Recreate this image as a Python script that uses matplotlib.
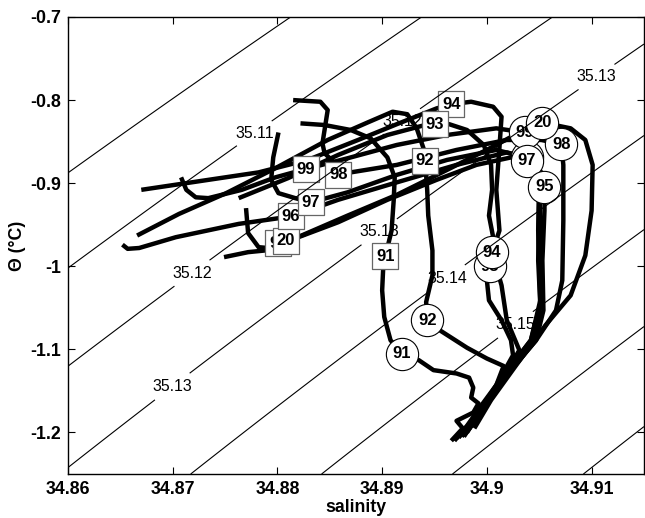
import numpy as np
import matplotlib.pyplot as plt
from matplotlib.ticker import FuncFormatter

plt.rcParams['font.family'] = ['Liberation Sans', 'DejaVu Sans']

# theta-S profiles, one per year (salinity, potential temperature)
s91 = [34.8822, 34.8845, 34.8870, 34.8889, 34.8905, 34.8912, 34.8911, 34.8909, 34.8903, 34.8901,
       34.8900, 34.8902, 34.8908, 34.8919, 34.8935, 34.8949, 34.8971, 34.8983, 34.8987, 34.8985,
       34.8992, 34.8987, 34.8971, 34.8977, 34.8966]
t91 = [-0.828, -0.830, -0.836, -0.846, -0.869, -0.893, -0.921, -0.957, -0.988, -1.002,
       -1.029, -1.061, -1.089, -1.105, -1.113, -1.125, -1.129, -1.134, -1.146, -1.158,
       -1.165, -1.176, -1.186, -1.195, -1.210]

s92 = [34.8666, 34.8706, 34.8751, 34.8798, 34.8848, 34.8886, 34.8910, 34.8924, 34.8933, 34.8940,
       34.8941, 34.8943, 34.8944, 34.8948, 34.8948, 34.8942, 34.8943, 34.8955, 34.8981, 34.9000,
       34.9016, 34.9009, 34.8995, 34.8981, 34.8969]
t92 = [-0.963, -0.937, -0.912, -0.882, -0.848, -0.827, -0.814, -0.817, -0.834, -0.860,
       -0.873, -0.908, -0.939, -0.981, -1.011, -1.043, -1.065, -1.077, -1.098, -1.111,
       -1.120, -1.143, -1.167, -1.192, -1.210]

s93 = [34.8763, 34.8810, 34.8858, 34.8905, 34.8938, 34.8950, 34.8964, 34.8981, 34.8997, 34.9004,
       34.9005, 34.9002, 34.9006, 34.9003, 34.9003, 34.9000, 34.9002, 34.9014, 34.9023, 34.9025,
       34.9009, 34.8990, 34.8971]
t93 = [-0.918, -0.894, -0.866, -0.842, -0.831, -0.829, -0.829, -0.836, -0.854, -0.878,
       -0.908, -0.939, -0.965, -0.988, -1.000, -1.017, -1.041, -1.065, -1.089, -1.107,
       -1.143, -1.180, -1.207]

s94 = [34.8670, 34.8734, 34.8782, 34.8829, 34.8877, 34.8914, 34.8952, 34.8966, 34.8985, 34.9006,
       34.9014, 34.9012, 34.9009, 34.9012, 34.9005, 34.9014, 34.9019, 34.9031, 34.9014, 34.8995,
       34.8978]
t94 = [-0.908, -0.896, -0.887, -0.872, -0.848, -0.829, -0.810, -0.805, -0.802, -0.808,
       -0.820, -0.857, -0.908, -0.957, -0.983, -1.023, -1.065, -1.101, -1.137, -1.173,
       -1.205]

s95 = [34.8770, 34.8772, 34.8782, 34.8791, 34.8801, 34.8820, 34.8858, 34.8905, 34.8952, 34.8990,
       34.9023, 34.9042, 34.9052, 34.9055, 34.9055, 34.9053, 34.9054, 34.9047, 34.9023, 34.9000,
       34.8978]
t95 = [-0.930, -0.960, -0.977, -0.978, -0.972, -0.965, -0.947, -0.920, -0.896, -0.878,
       -0.869, -0.872, -0.887, -0.904, -0.933, -0.993, -1.053, -1.089, -1.125, -1.167,
       -1.204]

s96 = [34.8652, 34.8657, 34.8668, 34.8703, 34.8763, 34.8813, 34.8858, 34.8914, 34.8971, 34.9019,
       34.9038, 34.9050, 34.9051, 34.9052, 34.9045, 34.9019, 34.8995, 34.8976]
t96 = [-0.974, -0.979, -0.978, -0.965, -0.949, -0.940, -0.920, -0.899, -0.878, -0.863,
       -0.869, -0.890, -0.957, -1.041, -1.089, -1.128, -1.173, -1.205]

s97 = [34.8801, 34.8796, 34.8794, 34.8801, 34.8817, 34.8832, 34.8867, 34.8914, 34.8962, 34.9009,
       34.9028, 34.9038, 34.9047, 34.9050, 34.9049, 34.9051, 34.9042, 34.9014, 34.8990, 34.8973]
t97 = [-0.839, -0.869, -0.896, -0.912, -0.918, -0.923, -0.911, -0.890, -0.872, -0.860,
       -0.866, -0.873, -0.890, -0.920, -0.993, -1.047, -1.089, -1.135, -1.180, -1.206]

s98 = [34.8815, 34.8841, 34.8848, 34.8846, 34.8843, 34.8845, 34.8855, 34.8858, 34.8870, 34.8914,
       34.8971, 34.9019, 34.9052, 34.9071, 34.9073, 34.9073, 34.9072, 34.9066, 34.9047, 34.9019,
       34.8995, 34.8981]
t98 = [-0.800, -0.802, -0.812, -0.828, -0.852, -0.864, -0.876, -0.890, -0.887, -0.878,
       -0.860, -0.848, -0.848, -0.853, -0.878, -0.945, -1.017, -1.053, -1.089, -1.131,
       -1.173, -1.200]

s99 = [34.8708, 34.8713, 34.8722, 34.8734, 34.8766, 34.8798, 34.8827, 34.8867, 34.8914, 34.8962,
       34.9009, 34.9036, 34.9045, 34.9050, 34.9049, 34.9051, 34.9042, 34.9014, 34.8990, 34.8973]
t99 = [-0.893, -0.908, -0.917, -0.918, -0.908, -0.893, -0.883, -0.870, -0.854, -0.842,
       -0.834, -0.839, -0.854, -0.884, -0.957, -1.041, -1.089, -1.135, -1.180, -1.206]

s20 = [34.8749, 34.8772, 34.8788, 34.8808, 34.8823, 34.8867, 34.8914, 34.8962, 34.9009, 34.9038,
       34.9053, 34.9080, 34.9094, 34.9101, 34.9100, 34.9094, 34.9080, 34.9056, 34.9028, 34.9004,
       34.8988]
t20 = [-0.989, -0.983, -0.981, -0.969, -0.963, -0.939, -0.914, -0.884, -0.854, -0.834,
       -0.827, -0.834, -0.848, -0.878, -0.933, -0.987, -1.035, -1.071, -1.119, -1.161,
       -1.195]

years = ['91', '92', '93', '94', '95', '96', '97', '98', '99', '20']
profiles = {'91': (s91, t91), '92': (s92, t92), '93': (s93, t93), '94': (s94, t94),
            '95': (s95, t95), '96': (s96, t96), '97': (s97, t97), '98': (s98, t98),
            '99': (s99, t99), '20': (s20, t20)}

# square markers (upper level), listed in drawing order
sq_year = ['95', '20', '96', '97', '99', '98', '91', '92', '94', '93']
sq_s = [34.8801, 34.8808, 34.8813, 34.8832, 34.8827, 34.8858, 34.8903, 34.8941, 34.8966, 34.8950]
sq_t = [-0.972, -0.969, -0.940, -0.923, -0.883, -0.890, -0.988, -0.873, -0.805, -0.829]

# circle markers (lower level), listed in drawing order
circ_year = ['96', '99', '98', '20', '97', '95', '93', '94', '92', '91']
circ_s = [34.9038, 34.9036, 34.9071, 34.9053, 34.9038, 34.9055, 34.9003, 34.9005, 34.8943, 34.8919]
circ_t = [-0.869, -0.839, -0.853, -0.827, -0.873, -0.904, -1.000, -0.983, -1.065, -1.105]

# isopycnal levels and where their labels sit
levels = [35.10, 35.11, 35.12, 35.13, 35.14, 35.15, 35.16, 35.17]
label_s = [34.8779, 34.8720, 34.8921, 34.8701, 34.8898, 34.9109, 34.8965, 34.9030]
label_t = [-0.842, -1.011, -0.829, -1.147, -0.960, -0.780, -1.019, -1.075]

fig = plt.figure(figsize=(6.45, 5.18), dpi=100)
ax = fig.add_axes([0.1054, 0.0849, 0.893, 0.8823])
ax.set_xlim(34.86, 34.915)
ax.set_ylim(-1.25, -0.7)

S, T = np.meshgrid(np.linspace(34.86, 34.915, 300), np.linspace(-1.25, -0.7, 300))
# local fit of the equation of state to the isopycnals
rho = 35.1011 + 0.8 * (S - 34.86) - 0.0883 * (T + 0.9) - 0.01125 * (T + 0.9) ** 2
cs = ax.contour(S, T, rho, levels=levels, colors='k', linewidths=0.8, zorder=6)
labs = ax.clabel(cs, fmt='%.2f', fontsize=11.4, inline=True, inline_spacing=2,
                 manual=list(zip(label_s, label_t)), zorder=1.5)
for lab in labs:
    lab.set_rotation(0)

for yr in years:
    s, t = profiles[yr]
    ax.plot(s, t, color='k', lw=3.2, solid_joinstyle='round', solid_capstyle='butt', zorder=2)

z = 3.0
for yr, s, t in zip(sq_year, sq_s, sq_t):
    ax.scatter(s, t, marker='s', s=340, facecolor='white', edgecolor='0.4', linewidths=0.9, zorder=z)
    ax.text(s, t, yr, ha='center', va='center', fontsize=12, fontweight='bold', zorder=z + 0.005)
    z += 0.01
for yr, s, t in zip(circ_year, circ_s, circ_t):
    ax.scatter(s, t, marker='o', s=540, facecolor='white', edgecolor='k', linewidths=0.8, zorder=z)
    ax.text(s, t, yr, ha='center', va='center', fontsize=12, fontweight='bold', zorder=z + 0.005)
    z += 0.01

ax.set_xticks([34.86, 34.87, 34.88, 34.89, 34.90, 34.91])
ax.set_yticks([-1.2, -1.1, -1.0, -0.9, -0.8, -0.7])
fmt = FuncFormatter(lambda v, p: f'{v:g}')
ax.xaxis.set_major_formatter(fmt)
ax.yaxis.set_major_formatter(fmt)
ax.tick_params(direction='in', top=True, right=True, length=5, width=0.8,
               labelsize=12.8, pad=5)
for lab in ax.get_xticklabels() + ax.get_yticklabels():
    lab.set_fontweight('bold')
for sp in ax.spines.values():
    sp.set_linewidth(1.0)

ax.set_xlabel('salinity', fontsize=12.8, fontweight='bold', labelpad=0.5)
ax.set_ylabel('Θ (°C)', fontsize=12.8, fontweight='bold', labelpad=3)

fig.savefig('out.png', dpi=100)
